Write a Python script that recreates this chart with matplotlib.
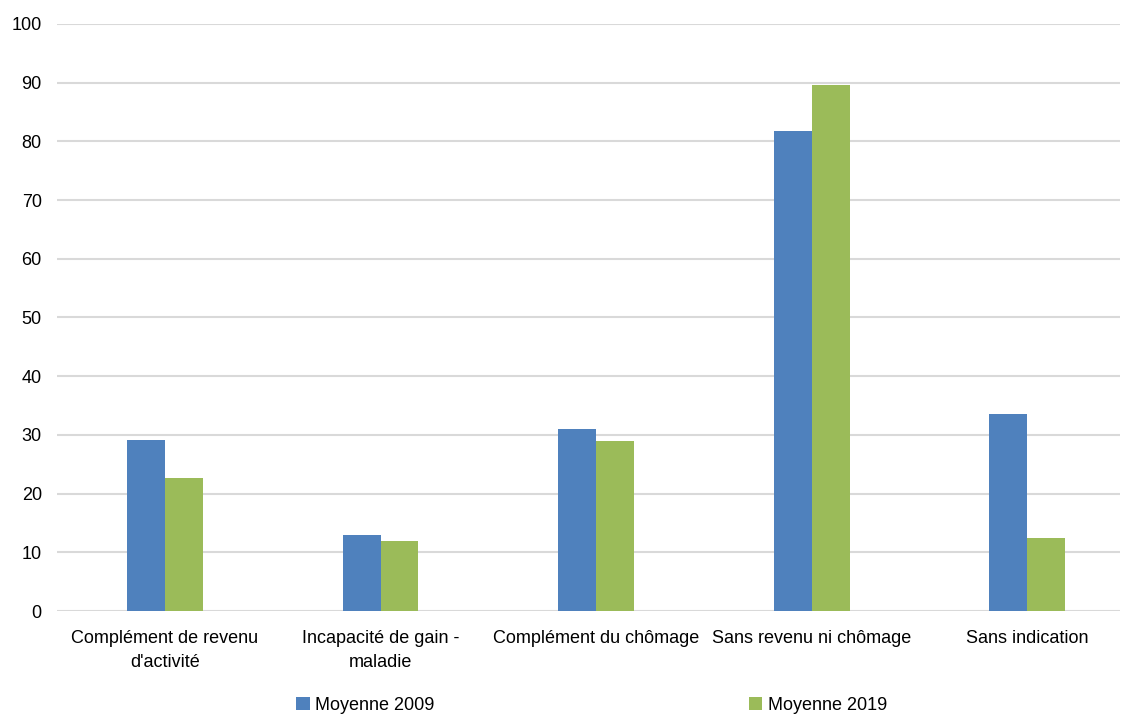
import numpy as np
import matplotlib
matplotlib.use("Agg")
import matplotlib.pyplot as plt

plt.rcParams['font.family'] = ['Liberation Sans', 'DejaVu Sans']

categories = ["Complément de revenu\nd'activité", "Incapacité de gain -\nmaladie",
              "Complément du chômage", "Sans revenu ni chômage", "Sans indication"]
moy_2009 = [29.1, 12.9, 31.0, 81.8, 33.5]
moy_2019 = [22.6, 11.9, 28.9, 89.6, 12.4]
series_names = ["Moyenne 2009", "Moyenne 2019"]

fig = plt.figure(figsize=(11.25, 7.18), dpi=100)
ax = fig.add_axes([0.0507, 0.149, 0.945, 0.8176])
x = np.arange(len(categories))
w = 0.176
b1 = ax.bar(x - w/2, moy_2009, w, color="#4F81BD", label=series_names[0], zorder=3)
b2 = ax.bar(x + w/2, moy_2019, w, color="#9BBB59", label=series_names[1], zorder=3)

ax.set_xlim(-0.5, 4.43)
ax.set_ylim(0, 100)
ax.set_yticks(np.arange(0, 101, 10))
ax.grid(axis='y', color="#D9D9D9", linewidth=1.5, zorder=0)
ax.set_axisbelow(True)
for s in ax.spines.values():
    s.set_visible(False)
ax.tick_params(axis='both', length=0, labelsize=13)
ax.tick_params(axis='y', pad=11)
ax.tick_params(axis='x', pad=14)
ax.set_xticks(x)
ax.set_xticklabels(categories, linespacing=1.5)

fig.legend(handles=[b1, b2], loc='lower center', bbox_to_anchor=(0.526, -0.017), ncol=2,
           frameon=False, fontsize=13, handlelength=0.75, handleheight=0.75,
           handletextpad=0.3, columnspacing=17.4)

fig.savefig("out.png", dpi=100)
